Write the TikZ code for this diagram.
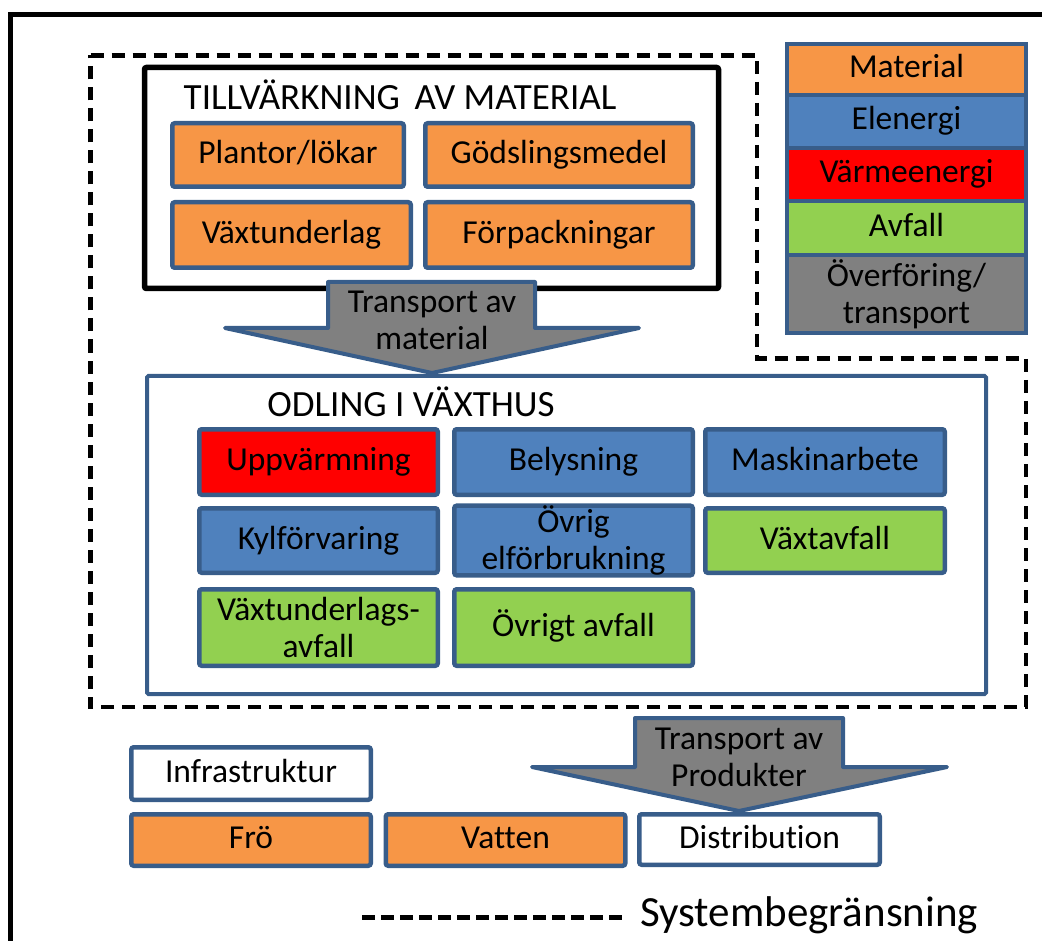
\documentclass[tikz,border=0pt]{standalone}
\usepackage{fontspec}
\setmainfont{Carlito}[Ligatures=NoCommon]
\definecolor{org}{HTML}{F79646}
\definecolor{blu}{HTML}{4F81BD}
\definecolor{rd}{HTML}{FF0000}
\definecolor{grn}{HTML}{92D050}
\definecolor{gry}{HTML}{808080}
\definecolor{bdr}{HTML}{385D8A}
\newcommand{\fs}{\fontsize{33.5}{37}\selectfont}
\newcommand{\ft}{\fontsize{37}{40}\selectfont}
\newcommand{\fl}{\fontsize{43}{48}\selectfont}
\tikzset{
  bx/.style={draw=bdr, line width=4.5pt, rounded corners=2.5pt, inner sep=0pt, font=\fs, align=center},
  one/.style={text height=22pt, text depth=5pt},
  lg/.style={draw=bdr, line width=4pt, inner sep=0pt, font=\fs, align=center, minimum width=239pt},
  arr/.style={draw=bdr, fill=gry, line width=4pt, line join=round},
  bound/.style={line width=4.8pt, dash pattern=on 13pt off 8pt},
}
\begin{document}
\begin{tikzpicture}[x=1pt,y=-1pt]
\useasboundingbox (0,0) rectangle (1042,941);
% outer frame
\draw[line width=5pt] (1042,15) -- (10.8,15) -- (10.8,941);
% system boundary
\draw[bound] (90.5,55.5) -- (757,55.5) -- (757,358.5) -- (1026,358.5) -- (1026,707) -- (90.5,707) -- cycle;
% Tillvarkning
\draw[line width=5.5pt, rounded corners=2pt] (144.5,67.5) rectangle (718.5,288.5);
\node[font=\ft, anchor=base] (t1) at (400,110) {TILLVÄRKNING\, AV MATERIAL};
\node[bx, one, fill=org, minimum width=231.5pt, minimum height=63.5pt] (plantor) at (288,155) {Plantor/lökar};
\node[bx, one, fill=org, minimum width=267.5pt, minimum height=63.5pt] (godsl) at (559,155) {Gödslingsmedel};
\node[bx, one, fill=org, minimum width=238.5pt, minimum height=65.5pt] (vaxtu) at (291.5,235) {Växtunderlag};
\node[bx, one, fill=org, minimum width=267.5pt, minimum height=65.5pt] (forp) at (559,235) {Förpackningar};
% Odling
\draw[draw=bdr, line width=4pt, rounded corners=1.5pt] (147,376) rectangle (986,694);
\node[font=\ft, anchor=base] (t2) at (411,417) {ODLING I VÄXTHUS};
\node[bx, one, fill=rd, minimum width=238.5pt, minimum height=65.5pt] (uppv) at (318.5,462) {Uppvärmning};
\node[bx, one, fill=blu, minimum width=238.5pt, minimum height=65.5pt] (bely) at (573.5,462) {Belysning};
\node[bx, one, fill=blu, minimum width=239.5pt, minimum height=65.5pt] (mask) at (825,462) {Maskinarbete};
\node[bx, one, fill=blu, minimum width=238.5pt, minimum height=64.5pt] (kyl) at (318.5,540.5) {Kylförvaring};
\node[bx, fill=blu, minimum width=238.5pt, minimum height=64.5pt] (ovrel) at (573.5,540.5) {Övrig\\elförbrukning};
\node[bx, one, fill=grn, minimum width=239.5pt, minimum height=64.5pt] (vaxta) at (825,540.5) {Växtavfall};
\node[bx, fill=grn, minimum width=238.5pt, minimum height=76.5pt] (vua) at (318.5,627.5) {Växtunderlags-\\avfall};
\node[bx, one, fill=grn, minimum width=238.5pt, minimum height=76.5pt] (ova) at (573.5,627.5) {Övrigt avfall};
% arrow 1
\draw[arr] (328,282) -- (535,282) -- (535,328) -- (639,328) -- (432,373) -- (225,328) -- (328,328) -- cycle;
\node[font=\fs, align=center, inner sep=0pt] (a1) at (432,320) {Transport av\\material};
% legend
\node[lg, one, fill=org, minimum height=51pt] (lmat) at (906.5,69.5) {Material};
\node[lg, one, fill=blu, minimum height=53pt] (lel) at (906.5,121.5) {Elenergi};
\node[lg, one, fill=rd, minimum height=53pt] (lvar) at (906.5,174.5) {Värmeenergi};
\node[lg, one, fill=grn, minimum height=54pt] (lavf) at (906.5,228) {Avfall};
\node[lg, fill=gry, minimum height=78pt] (lovf) at (906.5,294) {Överföring/\\transport};
% bottom
\node[bx, one, fill=white, minimum width=239.5pt, minimum height=52.5pt] (infra) at (251,773.5) {Infrastruktur};
\node[bx, one, fill=org, minimum width=239.5pt, minimum height=51.5pt] (fro) at (251,840) {Frö};
\node[bx, one, fill=org, minimum width=239.5pt, minimum height=51.5pt] (vatten) at (505.5,840) {Vatten};
\node[bx, one, fill=white, minimum width=240.5pt, minimum height=50.5pt] (distr) at (759.5,839.5) {Distribution};
% arrow 2
\draw[arr] (635,718) -- (843,718) -- (843,767) -- (947,767) -- (739,811) -- (532,767) -- (635,767) -- cycle;
\node[font=\fs, align=center, inner sep=0pt] (a2) at (739,757) {Transport av\\Produkter};
% key
\coordinate (k1) at (362,917);
\coordinate (k2) at (625,917);
\draw[line width=5pt, dash pattern=on 13pt off 6pt] (k1) -- (k2);
\node[font=\fl, anchor=base west, inner sep=0pt] (sys) at (640,926) {Systembegränsning};
\end{tikzpicture}
\end{document}
